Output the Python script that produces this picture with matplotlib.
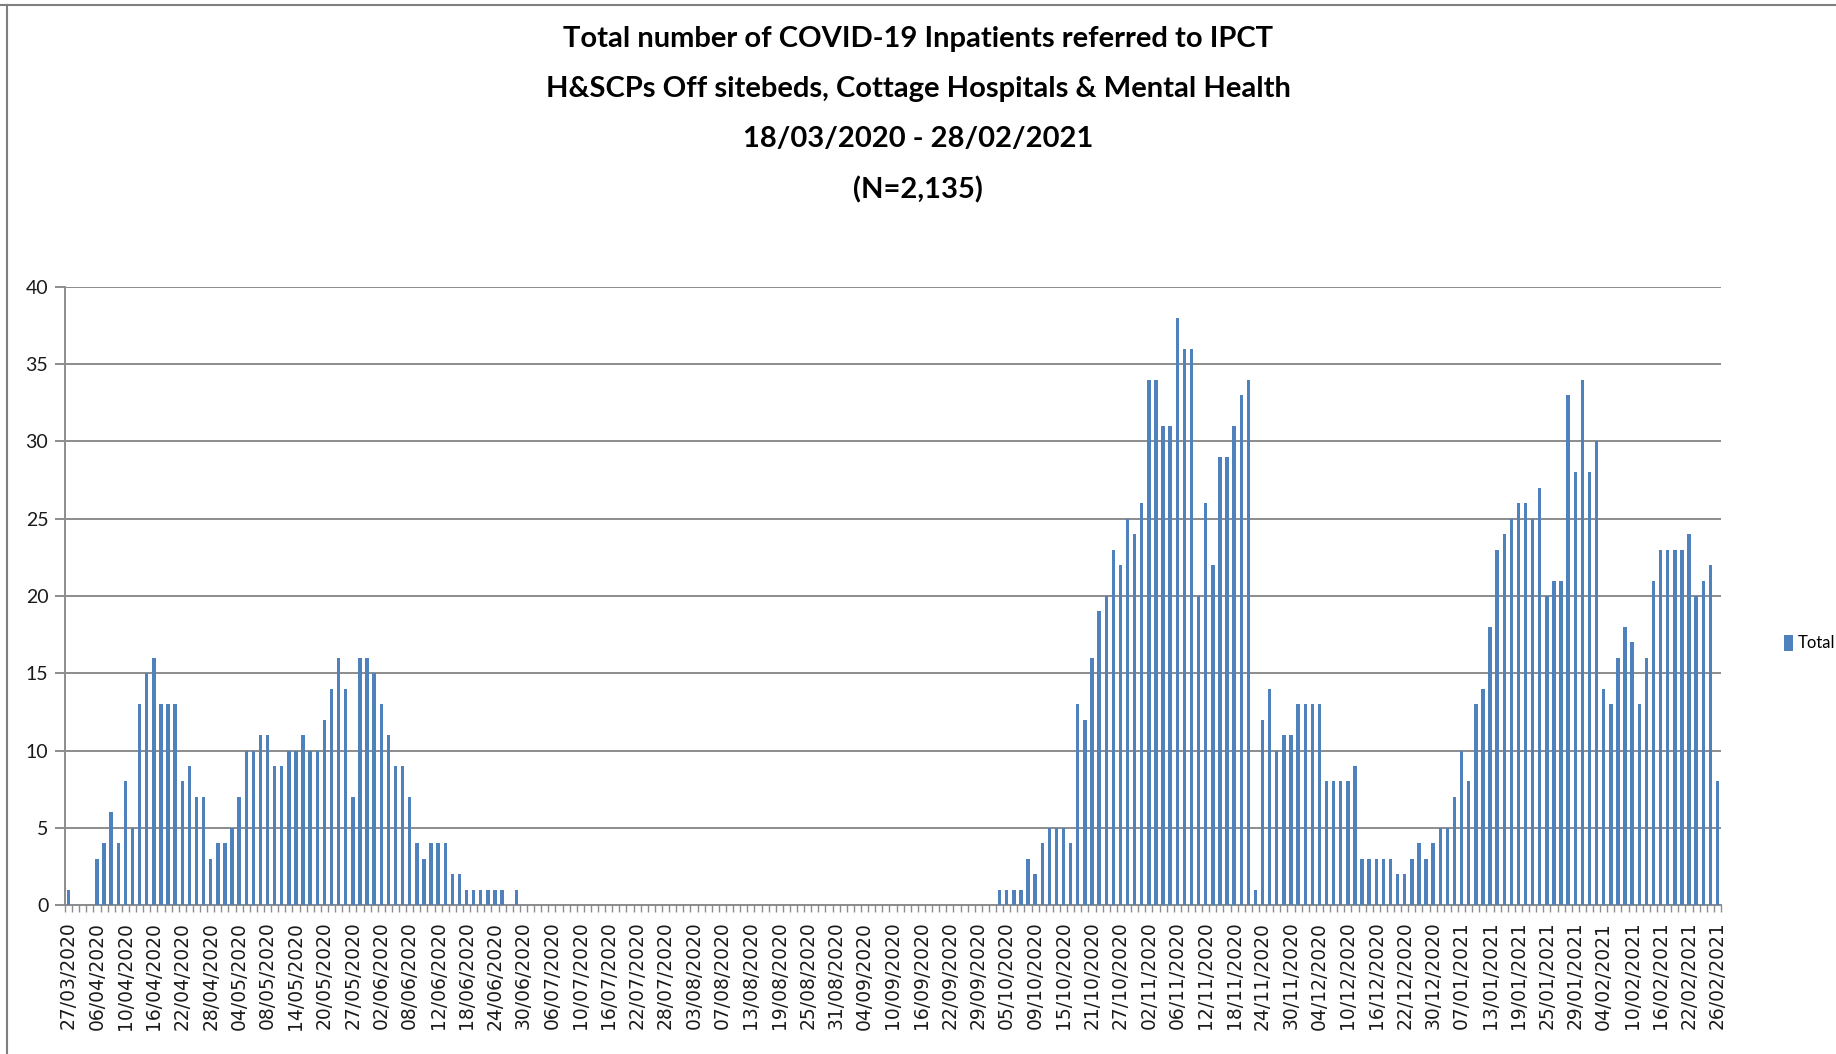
import numpy as np
import matplotlib.pyplot as plt
from matplotlib.lines import Line2D

title_lines = [
    'Total number of COVID-19 Inpatients referred to IPCT',
    'H&SCPs Off sitebeds, Cottage Hospitals & Mental Health',
    '18/03/2020 - 28/02/2021',
    '(N=2,135)',
]

date_labels = [
    '27/03/2020', '06/04/2020', '10/04/2020', '16/04/2020', '22/04/2020', '28/04/2020',
    '04/05/2020', '08/05/2020', '14/05/2020', '20/05/2020', '27/05/2020', '02/06/2020',
    '08/06/2020', '12/06/2020', '18/06/2020', '24/06/2020', '30/06/2020', '06/07/2020',
    '10/07/2020', '16/07/2020', '22/07/2020', '28/07/2020', '03/08/2020', '07/08/2020',
    '13/08/2020', '19/08/2020', '25/08/2020', '31/08/2020', '04/09/2020', '10/09/2020',
    '16/09/2020', '22/09/2020', '29/09/2020', '05/10/2020', '09/10/2020', '15/10/2020',
    '21/10/2020', '27/10/2020', '02/11/2020', '06/11/2020', '12/11/2020', '18/11/2020',
    '24/11/2020', '30/11/2020', '04/12/2020', '10/12/2020', '16/12/2020', '22/12/2020',
    '30/12/2020', '07/01/2021', '13/01/2021', '19/01/2021', '25/01/2021', '29/01/2021',
    '04/02/2021', '10/02/2021', '16/02/2021', '22/02/2021', '26/02/2021',
]

# daily referrals, one entry per category on the axis
first_wave = [
    1, 0, 0, 0, 3, 4, 6, 4, 8, 5,
    13, 15, 16, 13, 13, 13, 8, 9, 7, 7,
    3, 4, 4, 5, 7, 10, 10, 11, 11, 9,
    9, 10, 10, 11, 10, 10, 12, 14, 16, 14,
    7, 16, 16, 15, 13, 11, 9, 9, 7, 4,
    3, 4, 4, 4, 2, 2, 1, 1, 1, 1,
    1, 1, 0, 1,
]
summer = [
    0, 0, 0, 0, 0, 0, 0, 0, 0, 0,
    0, 0, 0, 0, 0, 0, 0, 0, 0, 0,
    0, 0, 0, 0, 0, 0, 0, 0, 0, 0,
    0, 0, 0, 0, 0, 0, 0, 0, 0, 0,
    0, 0, 0, 0, 0, 0, 0, 0, 0, 0,
    0, 0, 0, 0, 0, 0, 0, 0, 0, 0,
    0, 0, 0, 0, 0, 0, 0,
]
second_wave = [
    1, 1, 1, 1, 3, 2, 4, 5, 5, 5,
    4, 13, 12, 16, 19, 20, 23, 22, 25, 24,
    26, 34, 34, 31, 31, 38, 36, 36, 20, 26,
    22, 29, 29, 31, 33, 34, 1, 12, 14, 10,
    11, 11, 13, 13, 13, 13, 8, 8, 8, 8,
    9, 3, 3, 3, 3, 3, 2, 2, 3, 4,
    3, 4,
]
third_wave = [
    5, 5, 7, 10, 8, 13, 14, 18, 23, 24,
    25, 26, 26, 25, 27, 20, 21, 21, 33, 28,
    34, 28, 30, 14, 13, 16, 18, 17, 13, 16,
    21, 23, 23, 23, 23, 24, 20, 21, 22, 8,
]
totals = first_wave + summer + second_wave + third_wave

plt.rcParams['font.family'] = ['Lato', 'DejaVu Sans']

fig = plt.figure(figsize=(18.36, 10.54), dpi=100)
ax = fig.add_axes([65 / 1836, 1 - 905 / 1054, (1721 - 65) / 1836, (905 - 287) / 1054])

x = np.arange(len(totals))
bars = ax.bar(x, totals, width=0.48, color='#4F81BD', label='Total', zorder=3)

ax.set_xlim(-0.5, len(totals) - 0.5)
ax.set_ylim(0, 40)
ax.set_yticks(np.arange(0, 41, 5))
ax.grid(axis='y', color='#8c8c8c', linewidth=1.4, zorder=0)

ax.set_xticks(x[::4])
ax.set_xticklabels(date_labels, rotation=90, family='DejaVu Sans', fontsize=13.5, color='#1a1a1a')
ax.set_xticks(np.arange(-0.5, len(totals), 1), minor=True)
ax.tick_params(axis='x', which='major', length=0, pad=12)
ax.tick_params(axis='x', which='minor', length=5, width=1.0, color='#8c8c8c')
ax.tick_params(axis='y', length=7, width=1.4, color='#8c8c8c', pad=5, labelsize=14, labelcolor='#1a1a1a')

for side in ['top', 'right']:
    ax.spines[side].set_visible(False)
for side in ['left', 'bottom']:
    ax.spines[side].set_color('#8c8c8c')
    ax.spines[side].set_linewidth(1.4)

ax.legend(handles=[bars], loc='center left', bbox_to_anchor=(1784 / 1836, 1 - 643 / 1054),
          bbox_transform=fig.transFigure, frameon=False, fontsize=12,
          handlelength=0.55, handleheight=1.1, handletextpad=0.3, borderpad=0, borderaxespad=0)

title_y = [39, 89, 139, 190]
for line, ypix in zip(title_lines, title_y):
    fig.text(0.5, 1 - ypix / 1054, line, ha='center', va='center',
             fontsize=21, fontweight='bold', color='black')

# outer frame bits of the original chart area
fig.add_artist(Line2D([0, 1], [1 - 5 / 1054, 1 - 5 / 1054], color='#7f7f7f', linewidth=1.5))
fig.add_artist(Line2D([7 / 1836, 7 / 1836], [0, 1 - 5 / 1054], color='#7f7f7f', linewidth=1.5))

plt.savefig('out.png', dpi=100)
